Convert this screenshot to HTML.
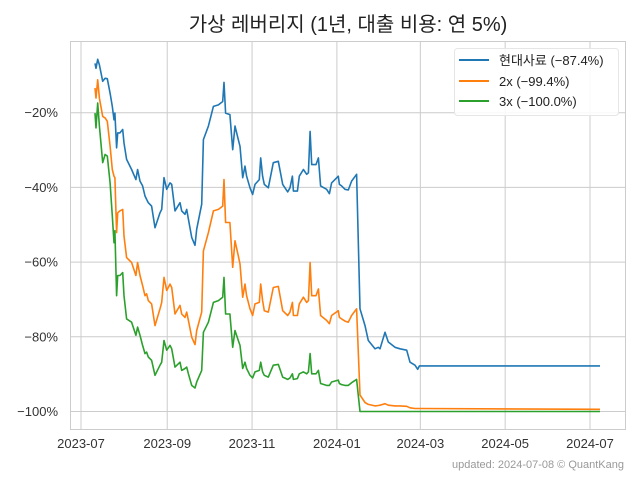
<!DOCTYPE html>
<html><head><meta charset="utf-8">
<style>
html,body{margin:0;padding:0;background:#fff;}
svg{display:block;font-family:"Liberation Sans","Noto Sans CJK KR",sans-serif;}
</style></head>
<body>
<svg id="chart" width="640" height="480" viewBox="0 0 640 480">
  <rect x="0" y="0" width="640" height="480" fill="#fff"/>
  <text x="348" y="31" text-anchor="middle" font-size="20" fill="#222">가상 레버리지 (1년, 대출 비용: 연 5%)</text>
  <g id="grid"></g>
  <rect x="70.5" y="41.5" width="555" height="388" fill="none" stroke="#cccccc" stroke-width="1"/>
  <g id="yticks"></g>
  <g id="xticks"></g>
  <g id="series"></g>
  <g>
    <rect x="454.5" y="48.5" width="164" height="67" rx="3" fill="#fff" fill-opacity="0.85" stroke="#e6e6e6"/>
    <line x1="459" y1="60" x2="489" y2="60" stroke="#1f77b4" stroke-width="2"/>
    <text x="499" y="65" font-size="13" fill="#222">현대사료 (−87.4%)</text>
    <line x1="459" y1="81" x2="489" y2="81" stroke="#ff7f0e" stroke-width="2"/>
    <text x="499" y="86" font-size="13" fill="#222">2x (−99.4%)</text>
    <line x1="459" y1="101" x2="489" y2="101" stroke="#2ca02c" stroke-width="2"/>
    <text x="499" y="106" font-size="13" fill="#222">3x (−100.0%)</text>
  </g>
  <text x="624" y="468" text-anchor="end" font-size="11" fill="#999">updated: 2024-07-08 © QuantKang</text>
</svg>
<script>
// days since 2023-07-01
const days = [10.1,10.8,12.0,13.2,15.6,17.3,18.9,20.9,22.5,23.7,24.4,25.6,26.4,28.0,30.0,30.9,32.8,36.4,39.5,40.7,42.4,44.3,46.0,47.2,48.4,50.8,53.2,56.8,58.0,59.7,61.6,64.0,65.2,67.6,71.2,72.4,74.8,76.0,77.2,79.6,82.0,83.2,86.8,88.0,91.6,95.2,98.8,101.9,102.8,104.0,107.1,109.1,110.7,113.1,114.3,116.3,117.9,119.1,121.5,123.4,125.1,128.2,129.2,130.6,131.8,134.7,138.3,141.9,145.0,148.6,150.3,152.0,152.7,155.6,157.0,159.9,162.3,163.5,164.7,165.9,169.0,170.7,172.3,176.6,178.6,180.2,185.0,185.8,187.4,189.8,192.2,194.6,198.2,
  200.6,204.2,206.6,211.4,213.8,215.0,218.6,221.0,225.8,229.4,234.2,236.6,240.2,242.1,243.3,373.2];
const baseVals = [-6.8,-8.1,-5.7,-7.2,-11.6,-10.8,-10.9,-14.8,-18.3,-21.9,-20.1,-29.4,-25.4,-25.4,-24.5,-28.1,-32.5,-35.2,-37.9,-35.2,-38.3,-39.6,-42.3,-43.2,-44.1,-45.0,-50.8,-46.8,-45.9,-37.4,-40.5,-38.8,-39.2,-46.3,-44.1,-46.3,-47.2,-45.9,-48.5,-53.4,-55.5,-51.2,-44.5,-27.2,-23.6,-18.3,-17.9,-17.0,-11.9,-20.1,-20.5,-29.9,-23.6,-27.2,-29.0,-37.4,-34.3,-37.0,-40.1,-41.9,-39.2,-37.9,-32.1,-37.0,-39.2,-40.1,-33.4,-33.0,-39.2,-41.2,-40.1,-37.0,-41.0,-41.0,-37.0,-35.2,-36.5,-36.1,-25.0,-33.9,-33.9,-32.1,-39.6,-40.5,-41.7,-38.8,-37.0,-39.2,-39.6,-40.5,-40.7,-38.3,-36.5,
  -72.5,-77.0,-81.0,-83.2,-82.8,-83.2,-78.8,-81.4,-82.8,-83.2,-83.6,-86.8,-87.6,-88.7,-87.8,-87.8];
const x2Vals = [-13.4,-16.1,-11.2,-16.1,-21.0,-21.4,-22.3,-29.0,-35.2,-37.0,-37.4,-52.1,-46.8,-46.3,-45.9,-53.0,-58.8,-60.1,-63.6,-60.1,-63.6,-66.3,-69.0,-68.5,-70.3,-71.2,-77.0,-72.5,-70.8,-64.1,-67.6,-65.9,-66.8,-73.9,-71.6,-73.9,-74.8,-73.4,-75.6,-80.1,-82.1,-78.3,-73.4,-57.0,-52.1,-46.3,-45.9,-45.0,-37.9,-49.4,-49.4,-61.4,-54.3,-58.3,-60.5,-69.4,-65.9,-69.0,-72.5,-74.3,-71.2,-70.8,-65.9,-70.3,-73.0,-73.4,-66.8,-66.5,-73.0,-74.3,-73.4,-70.8,-74.3,-74.3,-71.2,-69.4,-70.8,-70.3,-60.1,-69.0,-69.0,-67.2,-74.3,-75.6,-76.5,-74.3,-73.0,-74.8,-75.2,-75.8,-76.1,-74.3,-72.5,
  -95.6,-97.6,-98.1,-98.5,-98.4,-98.3,-97.9,-98.3,-98.5,-98.5,-98.6,-99.0,-99.2,-99.2,-99.2,-99.4];
const x3Vals = [-20.1,-24.1,-17.4,-23.6,-33.4,-31.2,-31.6,-38.8,-47.6,-54.8,-51.6,-69.0,-63.6,-63.6,-62.8,-69.0,-75.2,-76.1,-79.6,-77.4,-79.6,-82.3,-84.5,-84.1,-85.4,-86.3,-90.3,-87.6,-86.8,-81.0,-83.6,-82.3,-83.2,-88.1,-86.8,-89.0,-88.5,-88.1,-89.9,-93.0,-93.7,-92.1,-89.0,-78.8,-76.1,-70.8,-70.3,-69.4,-64.1,-73.9,-73.9,-82.8,-78.3,-81.0,-82.3,-88.5,-86.8,-88.5,-90.3,-91.0,-89.4,-89.0,-86.8,-89.4,-90.3,-90.8,-87.6,-87.4,-90.8,-91.4,-91.0,-89.9,-91.4,-91.2,-89.9,-89.4,-89.9,-89.4,-84.5,-89.9,-89.9,-89.0,-92.5,-93.0,-93.0,-92.1,-91.6,-92.5,-92.8,-93.0,-93.0,-92.3,-91.4,
  -100,-100,-100,-100,-100,-100,-100,-100,-100,-100,-100,-100,-100,-100,-100,-100];
const yTickVals = [-20,-40,-60,-80,-100];
const yTickLabels = ["−20%","−40%","−60%","−80%","−100%"];
const xTickDays = [0,62,123,184,244,305,366];
const xTickLabels = ["2023-07","2023-09","2023-11","2024-01","2024-03","2024-05","2024-07"];

const NS = "http://www.w3.org/2000/svg";
function xScale(d){ return 81 + d * (509/366); }
function yScale(v){ return 38 - v * 3.735; }
function mk(tag, attrs, parent){ const e = document.createElementNS(NS, tag); for (const k in attrs) e.setAttribute(k, attrs[k]); parent.appendChild(e); return e; }

const grid = document.getElementById('grid');
const yt = document.getElementById('yticks');
const xt = document.getElementById('xticks');
yTickVals.forEach((v,i)=>{
  const y = yScale(v);
  const gl = mk('line',{x1:70.5,x2:625.5,y1:y,y2:y,stroke:'#cccccc','stroke-width':1},grid);
  
  
  const t = mk('text',{x:58,y:y+4.5,'text-anchor':'end','font-size':13,fill:'#333'},yt);
  t.textContent = yTickLabels[i];
  
  
});
xTickDays.forEach((d,i)=>{
  const x = xScale(d);
  const gl = mk('line',{x1:x,x2:x,y1:41.5,y2:429.5,stroke:'#cccccc','stroke-width':1},grid);
  
  
  const t = mk('text',{x:x,y:448,'text-anchor':'middle','font-size':13,fill:'#333'},xt);
  t.textContent = xTickLabels[i];
  
  
});
const sg = document.getElementById('series');
[[baseVals,'#1f77b4','line-base'],[x2Vals,'#ff7f0e','line-2x'],[x3Vals,'#2ca02c','line-3x']].forEach(([vals,col,name])=>{
  const pts = days.map((d,i)=>xScale(d).toFixed(1)+','+yScale(vals[i]).toFixed(1)).join(' ');
  const p = mk('polyline',{points:pts,fill:'none',stroke:col,'stroke-width':1.6,'stroke-linejoin':'round'},sg);
  
  
});
</script>
</body></html>
